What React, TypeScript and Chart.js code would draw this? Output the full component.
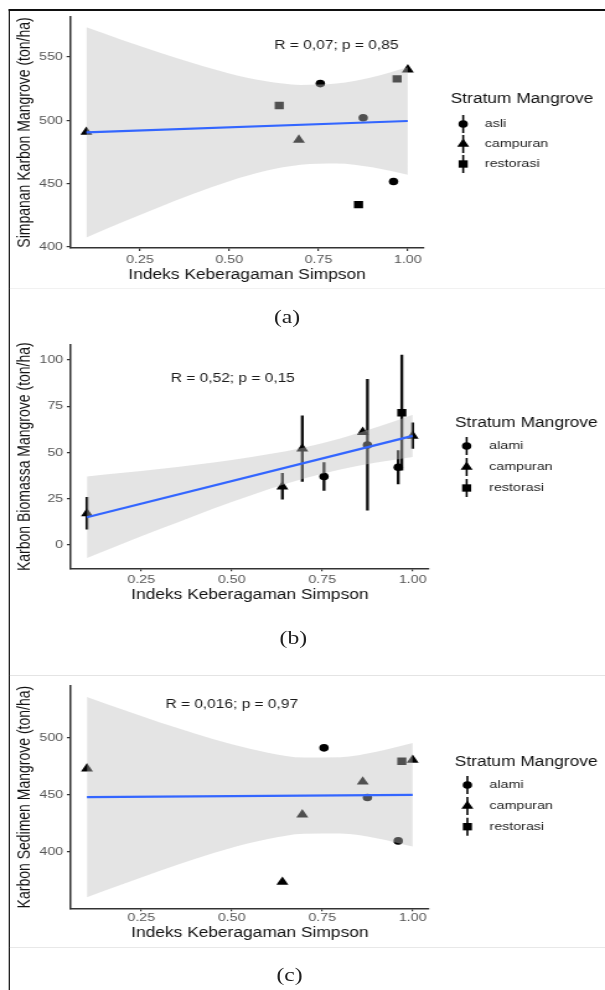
import React, { useEffect, useRef } from 'react';
import { Chart, registerables } from 'chart.js';

Chart.register(...registerables);

// ---------- shared ----------
const FONT = "'Liberation Sans', Arial, Helvetica, sans-serif";
const NW = 488; // native width; the whole figure is stretched horizontally to 605px
const STRETCH = 605 / NW;

const X_TICKS = [0.25, 0.5, 0.75, 1.0];
const X_TITLE = 'Indeks Keberagaman Simpson';
const LEGEND_TITLE = 'Stratum Mangrove';
const BAND_X = [0.1, 0.2, 0.3, 0.4, 0.5, 0.6, 0.7, 0.8, 0.9, 1.0];
const FIT_X = [0.1, 1.0];

// ---------- panel (a) ----------
const A_Y_TITLE = 'Simpanan Karbon Mangrove (ton/ha)';
const A_Y_TICKS = [400, 450, 500, 550];
const A_LABELS = ['asli', 'campuran', 'restorasi'];
const A_ASLI_X = [0.755, 0.875, 0.96];
const A_ASLI_Y = [529, 502, 451.7];
const A_CAMPURAN_X = [0.1, 0.695, 1.0];
const A_CAMPURAN_Y = [490.8, 484.6, 540];
const A_RESTORASI_X = [0.64, 0.862, 0.97];
const A_RESTORASI_Y = [511.7, 433.4, 532.7];
const A_FIT_Y = [490.5, 499.5];
const A_BAND_UPPER = [573.5, 563.5, 554, 545, 537, 531, 528, 529, 534, 542];
const A_BAND_LOWER = [407.5, 419.5, 431, 442, 452, 460, 465, 466, 463, 457];
const A_STAT = 'R = 0,07; p = 0,85';

// ---------- panel (b) ----------
const B_Y_TITLE = 'Karbon Biomassa Mangrove (ton/ha)';
const B_Y_TICKS = [0, 25, 50, 75, 100];
const B_LABELS = ['alami', 'campuran', 'restorasi'];
const B_ALAMI_X = [0.755, 0.875, 0.96];
const B_ALAMI_Y = [37, 54, 42];
const B_ALAMI_LO = [29.5, 18.8, 33];
const B_ALAMI_HI = [44.5, 89.5, 51];
const B_CAMPURAN_X = [0.1, 0.64, 0.695, 0.862, 1.0];
const B_CAMPURAN_Y = [17, 31.5, 52, 61, 59];
const B_CAMPURAN_LO = [8.5, 24.7, 34.3, 61, 52.2];
const B_CAMPURAN_HI = [25.7, 38.8, 69.8, 61, 66];
const B_RESTORASI_X = [0.97];
const B_RESTORASI_Y = [71.5];
const B_RESTORASI_LO = [40.5];
const B_RESTORASI_HI = [102.7];
const B_FIT_Y = [15, 59];
const B_BAND_UPPER = [37, 39, 41.1, 43.4, 46, 49, 52.7, 57.6, 63.6, 70.4];
const B_BAND_LOWER = [-7, 0.8, 8.5, 16, 23.2, 30, 35.9, 40.8, 44.6, 47.6];
const B_STAT = 'R = 0,52; p = 0,15';

// ---------- panel (c) ----------
const C_Y_TITLE = 'Karbon Sedimen Mangrove (ton/ha)';
const C_Y_TICKS = [400, 450, 500];
const C_LABELS = ['alami', 'campuran', 'restorasi'];
const C_ALAMI_X = [0.755, 0.875, 0.96];
const C_ALAMI_Y = [491.3, 447.7, 409.5];
const C_CAMPURAN_X = [0.1, 0.64, 0.695, 0.862, 1.0];
const C_CAMPURAN_Y = [473, 373.3, 432.6, 461.5, 480.6];
const C_RESTORASI_X = [0.97];
const C_RESTORASI_Y = [479.5];
const C_FIT_Y = [448, 450];
const C_BAND_UPPER = [536, 524.8, 513.8, 503.7, 494.4, 487.1, 482.8, 483, 487.8, 495.5];
const C_BAND_LOWER = [360, 371.6, 383, 393.7, 403.4, 411.1, 415.8, 416, 411.8, 404.5];
const C_STAT = 'R = 0,016; p = 0,97';

// ---------- styling ----------
const SHAPES = ['circle', 'triangle', 'rect'];
const RADII = [3.8, 5.6, 5.2];
const RIBBON = 'rgba(190,190,190,0.42)';
const AXIS = '#333333';

type Group = { x: number[]; y: number[]; lo?: number[]; hi?: number[] };
type PanelCfg = {
  top: number;
  height: number;
  pad: { left: number; right: number; top: number; bottom: number };
  yWidth: number;
  xHeight: number;
  xTickPad: number;
  xTitlePad: number;
  yTitlePad: number;
  yMin: number;
  yMax: number;
  yTicks: number[];
  yTitle: string;
  groups: Group[];
  fitY: number[];
  upper: number[];
  lower: number[];
  stat: string;
  statX: number;
  statY: number;
  labels: string[];
  legend: { titleX: number; titleY: number; symX: number; labelX: number; itemY: number[] };
};

function drawMarker(ctx: CanvasRenderingContext2D, shape: string, x: number, y: number) {
  ctx.fillStyle = '#000';
  ctx.beginPath();
  if (shape === 'circle') {
    ctx.arc(x, y, RADII[0], 0, Math.PI * 2);
  } else if (shape === 'triangle') {
    const r = RADII[1];
    for (let k = 0; k < 3; k++) {
      const a = (k * 2 * Math.PI) / 3;
      const px = x + Math.sin(a) * r;
      const py = y - Math.cos(a) * r;
      if (k === 0) ctx.moveTo(px, py);
      else ctx.lineTo(px, py);
    }
    ctx.closePath();
  } else {
    const h = RADII[2] * Math.SQRT1_2;
    ctx.rect(x - h, y - h, 2 * h, 2 * h);
  }
  ctx.fill();
}

function buildConfig(p: PanelCfg): any {
  const datasets: any[] = [];
  datasets.push({
    type: 'line',
    data: FIT_X.map((x, i) => ({ x, y: p.fitY[i] })),
    borderColor: '#3366FF',
    borderWidth: 2.2,
    pointRadius: 0,
    fill: false,
    order: 0,
  });
  datasets.push({
    type: 'line',
    data: BAND_X.map((x, i) => ({ x, y: p.upper[i] })),
    borderColor: 'rgba(0,0,0,0)',
    borderWidth: 1,
    pointRadius: 0,
    fill: '+1',
    backgroundColor: RIBBON,
    cubicInterpolationMode: 'monotone',
    order: 1,
  });
  datasets.push({
    type: 'line',
    data: BAND_X.map((x, i) => ({ x, y: p.lower[i] })),
    borderColor: 'rgba(0,0,0,0)',
    borderWidth: 1,
    pointRadius: 0,
    fill: false,
    cubicInterpolationMode: 'monotone',
    order: 2,
  });
  p.groups.forEach((g, gi) => {
    datasets.push({
      type: 'scatter',
      data: g.x.map((x, i) => ({ x, y: g.y[i] })),
      pointStyle: SHAPES[gi],
      pointRadius: RADII[gi],
      pointBackgroundColor: '#000',
      pointBorderColor: '#000',
      pointBorderWidth: 0,
      showLine: false,
      order: 3,
    });
    if (g.lo && g.hi) {
      datasets.push({
        type: 'bar',
        data: g.x.map((x, i) => ({ x, y: [g.lo![i], g.hi![i]] })),
        backgroundColor: '#111',
        borderWidth: 0,
        barThickness: 1.7,
        grouped: false,
        order: 4,
      });
    }
  });

  const legendPlugin = {
    id: 'stratumLegend',
    afterDraw(chart: any) {
      const ctx: CanvasRenderingContext2D = chart.ctx;
      const L = p.legend;
      ctx.save();
      ctx.textBaseline = 'middle';
      ctx.textAlign = 'left';
      ctx.fillStyle = '#111';
      ctx.font = `14px ${FONT}`;
      ctx.fillText(LEGEND_TITLE, L.titleX, L.titleY);
      p.labels.forEach((lab, i) => {
        const y = L.itemY[i];
        ctx.strokeStyle = '#000';
        ctx.lineWidth = 1.6;
        ctx.beginPath();
        ctx.moveTo(L.symX, y - 9);
        ctx.lineTo(L.symX, y + 9);
        ctx.stroke();
        drawMarker(ctx, SHAPES[i], L.symX, y);
        ctx.fillStyle = '#222';
        ctx.font = `11.5px ${FONT}`;
        ctx.fillText(lab, L.labelX, y);
      });
      ctx.restore();
    },
  };

  const statPlugin = {
    id: 'statLabel',
    afterDatasetsDraw(chart: any) {
      const ctx: CanvasRenderingContext2D = chart.ctx;
      const x = chart.scales.x.getPixelForValue(p.statX);
      const y = chart.scales.y.getPixelForValue(p.statY);
      ctx.save();
      ctx.fillStyle = '#1a1a1a';
      ctx.font = `12.5px ${FONT}`;
      ctx.textAlign = 'center';
      ctx.textBaseline = 'middle';
      ctx.fillText(p.stat, x, y);
      ctx.restore();
    },
  };

  return {
    type: 'scatter',
    data: { datasets },
    options: {
      animation: false,
      responsive: false,
      maintainAspectRatio: false,
      events: [],
      layout: { padding: p.pad },
      plugins: {
        legend: { display: false },
        tooltip: { enabled: false },
      },
      scales: {
        x: {
          type: 'linear',
          min: 0.055,
          max: 1.045,
          offset: false,
          afterBuildTicks: (s: any) => {
            s.ticks = X_TICKS.map((v) => ({ value: v }));
          },
          afterFit: (s: any) => {
            s.height = p.xHeight;
          },
          ticks: {
            autoSkip: false,
            maxRotation: 0,
            padding: p.xTickPad,
            color: '#555',
            font: { family: FONT, size: 11.5 },
            callback: (v: any) => Number(v).toFixed(2),
          },
          grid: {
            display: true,
            offset: false,
            drawOnChartArea: false,
            drawTicks: true,
            tickLength: 3,
            color: AXIS,
            lineWidth: 1.2,
          },
          border: { display: true, color: AXIS, width: 1.5 },
          title: {
            display: true,
            text: X_TITLE,
            color: '#111',
            font: { family: FONT, size: 14 },
            padding: { top: 0, bottom: p.xTitlePad },
          },
        },
        y: {
          type: 'linear',
          min: p.yMin,
          max: p.yMax,
          offset: false,
          beginAtZero: false,
          afterBuildTicks: (s: any) => {
            s.ticks = p.yTicks.map((v) => ({ value: v }));
          },
          afterFit: (s: any) => {
            s.width = p.yWidth;
          },
          ticks: {
            autoSkip: false,
            padding: 3,
            color: '#555',
            font: { family: FONT, size: 11.5 },
            callback: (v: any) => String(v),
          },
          grid: {
            display: true,
            offset: false,
            drawOnChartArea: false,
            drawTicks: true,
            tickLength: 3,
            color: AXIS,
            lineWidth: 1.2,
          },
          border: { display: true, color: AXIS, width: 1.5 },
          title: {
            display: true,
            text: p.yTitle,
            color: '#111',
            font: { family: FONT, size: 14 },
            padding: { top: p.yTitlePad, bottom: 0 },
          },
        },
      },
    },
    plugins: [legendPlugin, statPlugin],
  };
}

const PANEL_A: PanelCfg = {
  top: 0,
  height: 290,
  pad: { left: 6, right: NW - 341.9, top: 17, bottom: 2 },
  yWidth: 50.7,
  xHeight: 40,
  xTickPad: 2,
  xTitlePad: 4.6,
  yTitlePad: 5.5,
  yMin: 399.2,
  yMax: 581.6,
  yTicks: A_Y_TICKS,
  yTitle: A_Y_TITLE,
  groups: [
    { x: A_ASLI_X, y: A_ASLI_Y },
    { x: A_CAMPURAN_X, y: A_CAMPURAN_Y },
    { x: A_RESTORASI_X, y: A_RESTORASI_Y },
  ],
  fitY: A_FIT_Y,
  upper: A_BAND_UPPER,
  lower: A_BAND_LOWER,
  stat: A_STAT,
  statX: 0.8,
  statY: 558.7,
  labels: A_LABELS,
  legend: { titleX: 363.5, titleY: 99, symX: 373.6, labelX: 391.1, itemY: [124, 144, 164] },
};

const PANEL_B: PanelCfg = {
  top: 300,
  height: 310,
  pad: { left: 6, right: NW - 346, top: 45, bottom: 0 },
  yWidth: 51,
  xHeight: 41.7,
  xTickPad: 1.8,
  xTitlePad: 6.6,
  yTitlePad: 5.5,
  yMin: -12.6,
  yMax: 108.1,
  yTicks: B_Y_TICKS,
  yTitle: B_Y_TITLE,
  groups: [
    { x: B_ALAMI_X, y: B_ALAMI_Y, lo: B_ALAMI_LO, hi: B_ALAMI_HI },
    { x: B_CAMPURAN_X, y: B_CAMPURAN_Y, lo: B_CAMPURAN_LO, hi: B_CAMPURAN_HI },
    { x: B_RESTORASI_X, y: B_RESTORASI_Y, lo: B_RESTORASI_LO, hi: B_RESTORASI_HI },
  ],
  fitY: B_FIT_Y,
  upper: B_BAND_UPPER,
  lower: B_BAND_LOWER,
  stat: B_STAT,
  statX: 0.503,
  statY: 89.7,
  labels: B_LABELS,
  legend: { titleX: 367, titleY: 123, symX: 376.4, labelX: 394.6, itemY: [146, 167, 188] },
};

const PANEL_C: PanelCfg = {
  top: 676,
  height: 270,
  pad: { left: 6, right: NW - 346, top: 7.3, bottom: 0 },
  yWidth: 51,
  xHeight: 37.7,
  xTickPad: 0,
  xTitlePad: 4.3,
  yTitlePad: 5.5,
  yMin: 350.2,
  yMax: 545.8,
  yTicks: C_Y_TICKS,
  yTitle: C_Y_TITLE,
  groups: [
    { x: C_ALAMI_X, y: C_ALAMI_Y },
    { x: C_CAMPURAN_X, y: C_CAMPURAN_Y },
    { x: C_RESTORASI_X, y: C_RESTORASI_Y },
  ],
  fitY: C_FIT_Y,
  upper: C_BAND_UPPER,
  lower: C_BAND_LOWER,
  stat: C_STAT,
  statX: 0.5,
  statY: 529.4,
  labels: C_LABELS,
  legend: { titleX: 366.8, titleY: 85.7, symX: 377, labelX: 394.8, itemY: [109, 130, 150.7] },
};

function Panel({ cfg }: { cfg: PanelCfg }) {
  const ref = useRef<HTMLCanvasElement | null>(null);
  useEffect(() => {
    if (!ref.current) return;
    const chart = new Chart(ref.current, buildConfig(cfg));
    return () => chart.destroy();
  }, [cfg]);
  return (
    <canvas
      ref={ref}
      width={NW}
      height={cfg.height}
      style={{ position: 'absolute', left: 0, top: cfg.top, width: NW, height: cfg.height, display: 'block' }}
    />
  );
}

function Caption({ text, cx, cy }: { text: string; cx: number; cy: number }) {
  return (
    <div
      style={{
        position: 'absolute',
        left: cx - 40,
        top: cy - 13,
        width: 80,
        height: 26,
        lineHeight: '26px',
        textAlign: 'center',
        fontFamily: "'Liberation Serif', 'DejaVu Serif', serif",
        fontSize: 19,
        color: '#222',
      }}
    >
      {text}
    </div>
  );
}

export default function App() {
  return (
    <div style={{ position: 'absolute', left: 0, top: 0, width: 605, height: 990, overflow: 'hidden', background: '#fff' }}>
      <div
        style={{
          position: 'absolute',
          left: 0,
          top: 0,
          width: NW,
          height: 990,
          transform: `scaleX(${STRETCH})`,
          transformOrigin: '0 0',
        }}
      >
        {/* frame */}
        <div style={{ position: 'absolute', left: 6.5, top: 9, width: 1.7, height: 981, background: '#111' }} />
        <div style={{ position: 'absolute', left: 6.5, top: 9, width: NW - 6.5, height: 2, background: '#111' }} />
        {/* separators */}
        <div style={{ position: 'absolute', left: 8.2, top: 288, width: NW - 8.2, height: 1, background: '#f1f1f1' }} />
        <div style={{ position: 'absolute', left: 8.2, top: 675, width: NW - 8.2, height: 1, background: '#e4e4e4' }} />
        <div style={{ position: 'absolute', left: 8.2, top: 947, width: NW - 8.2, height: 1, background: '#e8e8e8' }} />
        <Panel cfg={PANEL_A} />
        <Panel cfg={PANEL_B} />
        <Panel cfg={PANEL_C} />
        <Caption text="(a)" cx={231.5} cy={317} />
        <Caption text="(b)" cx={236.6} cy={638} />
        <Caption text="(c)" cx={233.5} cy={975} />
      </div>
    </div>
  );
}
